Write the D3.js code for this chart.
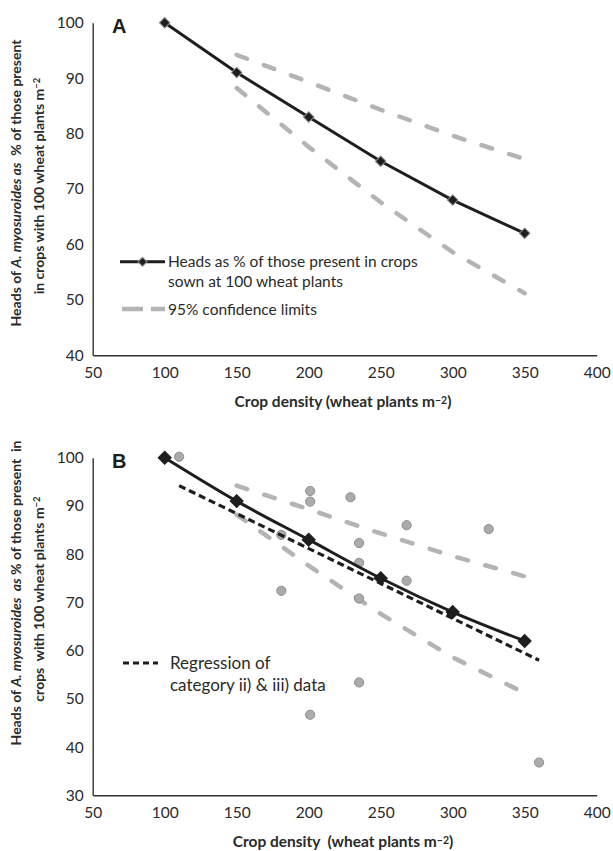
<!DOCTYPE html>
<html>
<head>
<meta charset="utf-8">
<script src="https://cdn.jsdelivr.net/npm/d3@7/dist/d3.min.js"></script>
<style>
  body { margin: 0; background: #fff; }
  svg { display: block; font-family: Lato, "Open Sans", sans-serif; }
</style>
</head>
<body>
<svg id="chart" width="613" height="851"></svg>
<script>
// crop density values (wheat plants m-2)
var densities = [100, 150, 200, 250, 300, 350];
// heads as % of those present at 100 wheat plants
var headsPct = [100, 91, 83, 75, 68, 62];
// 95% confidence limits
var ciDensities = [150, 200, 250, 300, 350];
var ciUpper = [94.2, 89.3, 84.3, 79.6, 75.4];
var ciLower = [88.2, 77.6, 67.6, 58.6, 51.2];
// category ii) & iii) observations (panel B)
var obsDensity = [110, 181, 181, 201, 201, 201, 229, 235, 235, 235, 235, 268, 268, 325, 360];
var obsPct = [100.2, 84.0, 72.4, 93.1, 90.9, 46.7, 91.8, 82.3, 78.2, 70.8, 53.4, 86.0, 74.5, 85.2, 36.8];
// regression of category ii) & iii) data, end points
var regDensity = [110, 360];
var regPct = [94.2, 58.0];

var xTicks = [50, 100, 150, 200, 250, 300, 350, 400];
var yTicksA = [40, 50, 60, 70, 80, 90, 100];
var yTicksB = [30, 40, 50, 60, 70, 80, 90, 100];

var svg = d3.select('#chart');
var ink = '#1e1e1e',
    grey = '#b4b4b6';

function drawPanel(opts) {
    var x = d3.scaleLinear().domain([50, 400]).range([92.7, 596.7]),
        y = d3.scaleLinear().domain(opts.yDomain).range([opts.bottom, opts.top]);

    var g = svg.append('g');

    // axes: plain lines, no tick marks
    var xAxis = d3.axisBottom(x).tickValues(xTicks).tickSize(0).tickPadding(12);
    var yAxis = d3.axisLeft(y).tickValues(opts.yTicks).tickSize(0).tickPadding(9);
    var gx = g.append('g').attr('transform', 'translate(0,' + opts.bottom + ')').call(xAxis);
    var gy = g.append('g').attr('transform', 'translate(' + x(50) + ',0)').call(yAxis);
    [gx, gy].forEach(function (a) {
        a.select('.domain').attr('stroke', '#333').attr('stroke-width', 1.4);
        a.selectAll('text').attr('font-size', 15.5).attr('fill', '#2a2a2a')
            .attr('font-family', 'Lato, sans-serif');
    });

    // panel letter
    g.append('text').attr('x', 112).attr('y', opts.top + 10)
        .attr('font-size', 20).attr('font-weight', 'bold').attr('fill', ink)
        .attr('font-family', 'Liberation Sans, Arial, sans-serif')
        .text(opts.letter);

    // confidence limits
    var ciLine = d3.line().x(function (d) { return x(d[0]); }).y(function (d) { return y(d[1]); });
    [ciUpper, ciLower].forEach(function (vals) {
        g.append('path')
            .attr('d', ciLine(ciDensities.map(function (d, i) { return [d, vals[i]]; })))
            .attr('fill', 'none').attr('stroke', grey).attr('stroke-width', 4.5)
            .attr('stroke-linecap', 'round').attr('stroke-dasharray', '11,18');
    });

    if (opts.showObs) {
        g.selectAll('circle.obs')
            .data(obsDensity.map(function (d, i) { return [d, obsPct[i]]; }))
            .enter().append('circle')
            .attr('class', 'obs')
            .attr('cx', function (d) { return x(d[0]); })
            .attr('cy', function (d) { return y(d[1]); })
            .attr('r', 4.6)
            .attr('fill', '#ababab').attr('stroke', '#8e8e8e').attr('stroke-width', 1);

        g.append('path')
            .attr('d', ciLine(regDensity.map(function (d, i) { return [d, regPct[i]]; })))
            .attr('fill', 'none').attr('stroke', ink).attr('stroke-width', 3.2)
            .attr('stroke-dasharray', '7,4');
    }

    // main line with diamonds
    var main = densities.map(function (d, i) { return [d, headsPct[i]]; });
    g.append('path')
        .attr('d', ciLine.curve(opts.curve)(main))
        .attr('fill', 'none').attr('stroke', ink).attr('stroke-width', 3);
    g.selectAll('path.pt').data(main).enter().append('path')
        .attr('class', 'pt')
        .attr('d', d3.symbol(d3.symbolSquare, opts.markerSize)())
        .attr('transform', function (d) {
            return 'translate(' + x(d[0]) + ',' + y(d[1]) + ') rotate(45)';
        })
        .attr('fill', ink).attr('stroke', opts.markerStroke).attr('stroke-width', 1);

    // x axis title
    var xt = g.append('text').attr('x', 343).attr('y', opts.bottom + 52)
        .attr('text-anchor', 'middle').attr('font-size', 15.5).attr('font-weight', 'bold')
        .attr('fill', '#2a2a2a').attr('xml:space', 'preserve');
    xt.append('tspan').text(opts.xTitle);
    xt.append('tspan').attr('font-size', 10.5).attr('dy', -3).text('\u22122');
    xt.append('tspan').attr('dy', 3).text(')');

    // y axis title, two lines
    opts.yTitle.forEach(function (parts, li) {
        var t = g.append('text')
            .attr('transform', 'translate(' + (21 + li * 23) + ',' + opts.yTitleMid[li] + ') rotate(-90)')
            .attr('text-anchor', 'middle').attr('font-size', 14).attr('font-weight', 'bold')
            .attr('fill', '#2a2a2a').attr('xml:space', 'preserve');
        parts.forEach(function (p) {
            var s = t.append('tspan').text(p.t);
            if (p.i) s.attr('font-style', 'italic');
            if (p.sup) s.attr('font-size', 9.5).attr('dy', -4);
        });
    });

    return {x: x, y: y, g: g};
}

// ---- panel A
var A = drawPanel({
    letter: 'A', top: 22.7, bottom: 355.3, yDomain: [40, 100], yTicks: yTicksA,
    curve: d3.curveLinear, markerSize: 55, markerStroke: '#8a8a8a', showObs: false,
    xTitle: 'Crop density (wheat plants m',
    yTitleMid: [183, 186],
    yTitle: [
        [{t: 'Heads of '}, {t: 'A. myosuroides as', i: true}, {t: '  % of those present'}],
        [{t: 'in crops with 100 wheat plants m'}, {t: '\u22122', sup: true}]
    ]
});

// legend A
var lgA = A.g.append('g');
lgA.append('line').attr('x1', 120).attr('x2', 165).attr('y1', 261.7).attr('y2', 261.7)
    .attr('stroke', ink).attr('stroke-width', 3);
lgA.append('path').attr('d', d3.symbol(d3.symbolSquare, 40)())
    .attr('transform', 'translate(142.5,261.7) rotate(45)')
    .attr('fill', ink).attr('stroke', '#8a8a8a');
lgA.append('line').attr('x1', 122).attr('x2', 165).attr('y1', 309).attr('y2', 309)
    .attr('stroke', grey).attr('stroke-width', 4.5).attr('stroke-dasharray', '21,8');
[['Heads as % of those present in crops', 267], ['sown at 100 wheat plants', 286.5],
 ['95% confidence limits', 314.5]].forEach(function (d) {
    lgA.append('text').attr('x', 168).attr('y', d[1]).attr('font-size', 15.5)
        .attr('fill', '#2a2a2a').text(d[0]);
});

// ---- panel B
var B = drawPanel({
    letter: 'B', top: 457.7, bottom: 795.3, yDomain: [30, 100], yTicks: yTicksB,
    curve: d3.curveCatmullRom.alpha(0.5), markerSize: 85, markerStroke: ink, showObs: true,
    xTitle: 'Crop density  (wheat plants m',
    yTitleMid: [593, 599],
    yTitle: [
        [{t: 'Heads of '}, {t: 'A. myosuroides  as', i: true}, {t: ' % of those present  in'}],
        [{t: 'crops  with 100 wheat plants m'}, {t: '\u22122', sup: true}]
    ]
});

// legend B
var lgB = B.g.append('g');
lgB.append('line').attr('x1', 123).attr('x2', 158).attr('y1', 663).attr('y2', 663)
    .attr('stroke', ink).attr('stroke-width', 3).attr('stroke-dasharray', '6,4');
[['Regression of', 669], ['category ii) & iii) data', 691]].forEach(function (d) {
    lgB.append('text').attr('x', 170).attr('y', d[1]).attr('font-size', 17)
        .attr('fill', '#2a2a2a').text(d[0]);
});
</script>
</body>
</html>
